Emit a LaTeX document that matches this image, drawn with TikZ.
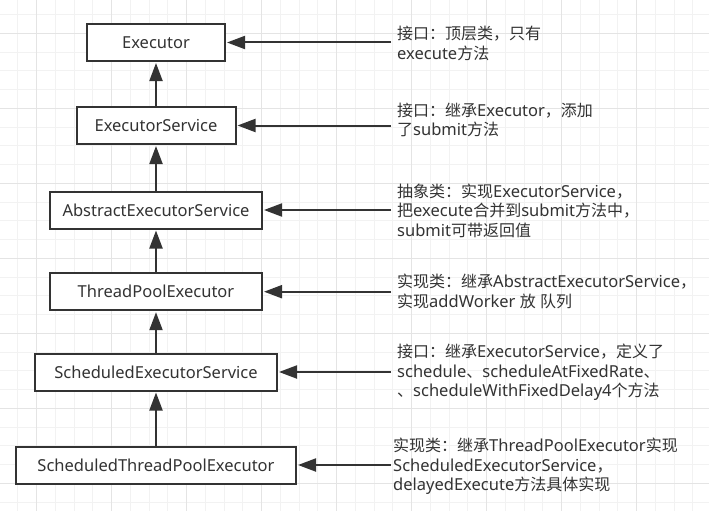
\documentclass[tikz,border=0pt]{standalone}
\usepackage{fontspec}
\setmainfont{Noto Sans}
\newfontfamily\cjk{Noto Sans CJK SC}[Scale=0.97]
\usetikzlibrary{arrows.meta}
\newcommand{\zh}[1]{{\cjk #1}}
\definecolor{ink}{HTML}{333333}
\definecolor{gminor}{HTML}{F2F2F2}
\definecolor{gmajor}{HTML}{E4E4E4}
\begin{document}
\begin{tikzpicture}[x=1pt,y=-1pt,
  minorline/.style={draw=gminor,line width=1pt},
  majorline/.style={draw=gmajor,line width=1pt},
  cls/.style={draw=ink,line width=2pt,fill=white,minimum height=37pt,text=ink,
    font=\fontsize{16.5}{19}\selectfont,inner sep=0pt},
  note/.style={anchor=west,align=left,text=ink,font=\fontsize{16.5}{19.7}\selectfont,
    inner xsep=6pt,inner ysep=0pt},
  arr/.style={draw=ink,line width=2pt,-{Triangle[length=18pt,width=13pt]},shorten >=1pt}]
\useasboundingbox (0,0) rectangle (709,511);
\fill[white] (0,0) rectangle (709,511);
% grid
\foreach \i in {0,...,36} { \draw[minorline] (17.75+18.75*\i,0) -- ++(0,511); }
\foreach \i in {0,...,26} { \draw[minorline] (0,14.55+18.75*\i) -- ++(709,0); }
\foreach \i in {0,...,8} { \draw[majorline] (36.5+75*\i,0) -- ++(0,511); }
\foreach \i in {0,...,6} { \draw[majorline] (0,33.3+75*\i) -- ++(709,0); }
% classes
\node[cls,minimum width=138pt] (b1) at (156,42.5) {Executor};
\node[cls,minimum width=159pt] (b2) at (156,125.5) {ExecutorService};
\node[cls,minimum width=212pt] (b3) at (156,210) {AbstractExecutorService};
\node[cls,minimum width=212pt] (b4) at (156,291.7) {ThreadPoolExecutor};
\node[cls,minimum width=242pt] (b5) at (156,372) {ScheduledExecutorService};
\node[cls,minimum width=280pt] (b6) at (156,465) {ScheduledThreadPoolExecutor};
% notes
\node[note] (t1) at (391,43.3) {\zh{接口：顶层类，只有}\\execute\zh{方法}};
\node[note] (t2) at (391,120) {\zh{接口：继承}Executor\zh{，添加}\\\zh{了}submit\zh{方法}};
\node[note] (t3) at (391,210.8) {\zh{抽象类：实现}ExecutorService\zh{，}\\\zh{把}execute\zh{合并到}submit\zh{方法中，}\\submit\zh{可带返回值}};
\node[note] (t4) at (391,291.4) {\zh{实现类：继承}AbstractExecutorService\zh{，}\\\zh{实现}addWorker \zh{放} \zh{队列}};
\node[note] (t5) at (391,372.4) {\zh{接口：继承}ExecutorService\zh{，定义了}\\schedule\zh{、}scheduleAtFixedRate\zh{、}\\\zh{、}scheduleWithFixedDelay4\zh{个方法}};
\node[note,inner xsep=2pt] (t6) at (391,466.2) {\zh{实现类：继承}ThreadPoolExecutor\zh{实现}\\ScheduledExecutorService\zh{，}\\delayedExecute\zh{方法具体实现}};
% inheritance arrows
\draw[arr] (b2.north) -- (b1.south);
\draw[arr] (b3.north) -- (b2.south);
\draw[arr] (b4.north) -- (b3.south);
\draw[arr] (b5.north) -- (b4.south);
\draw[arr] (b6.north) -- (b5.south);
% note arrows
\draw[arr] (b1.east -| t1.west) -- (b1.east);
\draw[arr] (b2.east -| t2.west) -- (b2.east);
\draw[arr] (b3.east -| t3.west) -- (b3.east);
\draw[arr] (b4.east -| t4.west) -- (b4.east);
\draw[arr] (b5.east -| t5.west) -- (b5.east);
\draw[arr] (b6.east -| t6.west) -- (b6.east);
\end{tikzpicture}
\end{document}
